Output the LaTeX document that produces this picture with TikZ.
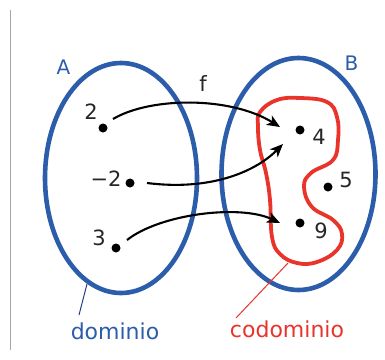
\documentclass[tikz,border=0pt]{standalone}
\usepackage{fontspec}
\setmainfont{DejaVu Sans}
\usetikzlibrary{arrows.meta}
\definecolor{setblue}{HTML}{2B5DAB}
\definecolor{setred}{HTML}{E8342A}
\definecolor{navy}{HTML}{283C80}
\tikzset{
  setline/.style={draw=setblue, line width=4.6pt},
  codline/.style={draw=setred, line width=3.8pt},
  pt/.style={circle, fill=black, inner sep=0pt, minimum size=9pt},
  num/.style={inner sep=0pt, font=\fontsize{21}{25}\selectfont, text=black!85},
  setlabel/.style={inner sep=0pt, font=\fontsize{20}{24}\selectfont, text=setblue},
  maparrow/.style={draw=black, line width=2.1pt, -{Stealth[length=13pt,width=11pt,inset=3.5pt]}},
  callout/.style={line width=1pt},
}
\begin{document}
\begin{tikzpicture}[x=1pt, y=-1pt]
\useasboundingbox (0,0) rectangle (385,359);
\fill[white] (0,0) rectangle (385,359);
\draw[gray!70, line width=0.8pt] (10,10) -- (10,350);

% sets
\draw[setline] (121,178) ellipse [x radius=76, y radius=115];
\draw[setline] (298.5,174) ellipse [x radius=77, y radius=116];
\node[setlabel] (A) at (63.5,67) {A};
\node[setlabel] (B) at (351.5,63) {B};

% codomain blob
\draw[codline] plot[smooth cycle, tension=0.7] coordinates {
  (260,112) (277,100) (300,98) (327,102) (337,117) (338,140) (333,160)
  (311,173) (304,187) (312,207) (333,220) (342,234) (337,250) (317,262)
  (297,263) (280,254) (272,237) (270,200) (266,173) (260,150) (258,127)};

% elements
\node[pt] (p2) at (103,128) {};
\node[pt] (pm2) at (130,183) {};
\node[pt] (p3) at (116,248) {};
\node[pt] (p4) at (300,130) {};
\node[pt] (p5) at (328,187) {};
\node[pt] (p9) at (300,223) {};
\node[num] (l2) at (91,111.5) {2};
\node[num] (lm2) at (106,179) {\char"2212 2};
\node[num] (l3) at (99,238) {3};
\node[num] (l4) at (319,137) {4};
\node[num] (l5) at (346,180) {5};
\node[num] (l9) at (321,231) {9};
\node[num] (f) at (203,84) {f};

% arrow endpoints
\coordinate (s2) at (113,119);
\coordinate (sm2) at (147,183);
\coordinate (s3) at (127,240);
\coordinate (e4a) at (280,127);
\coordinate (e4b) at (283,144);
\coordinate (e9) at (280,223);

\draw[maparrow] (s2) .. controls (150,97) and (230,96) .. (e4a);
\draw[maparrow] (sm2) .. controls (210,191) and (255,172) .. (e4b);
\draw[maparrow] (s3) .. controls (160,214) and (240,204) .. (e9);

% callouts
\node[inner sep=0pt, anchor=base, text=setblue, font=\fontsize{22}{26}\selectfont] (dom) at (115,339) {dominio};
\node[inner sep=0pt, anchor=base, text=setred, font=\fontsize{22}{26}\selectfont] (cod) at (287,337) {codominio};
\coordinate (dA) at (87,284);
\coordinate (dE) at (79,315);
\coordinate (cA) at (288,263);
\coordinate (cE) at (236,318);
\draw[callout, navy] (dA) -- (dE);
\draw[callout, setred] (cA) -- (cE);
\end{tikzpicture}
\end{document}
